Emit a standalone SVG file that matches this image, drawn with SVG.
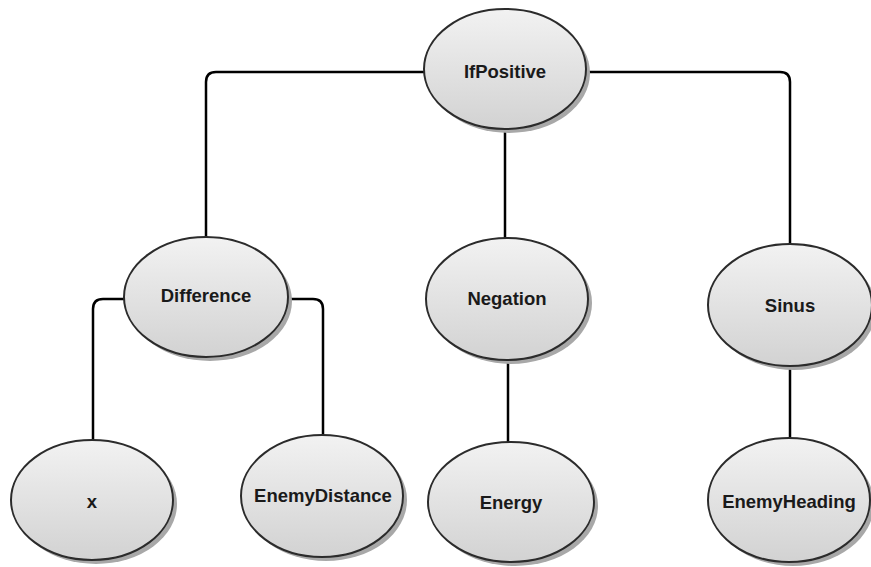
<svg xmlns="http://www.w3.org/2000/svg" width="871" height="567" viewBox="0 0 871 567">
  <defs>
    <linearGradient id="nodeFill" x1="0" y1="0" x2="0" y2="1">
      <stop offset="0" stop-color="#f2f2f2"/>
      <stop offset="1" stop-color="#d2d2d2"/>
    </linearGradient>
  </defs>
  <style>
    .shadow { fill: #a8a8a8; }
    .body { fill: url(#nodeFill); stroke: #2b2b2b; stroke-width: 2; }
    .label { font-family: "Liberation Sans", Arial, sans-serif; font-weight: bold; font-size: 18.5px; fill: #1a1a1a; text-anchor: middle; dominant-baseline: central; }
    .edge { fill: none; stroke: #000; stroke-width: 2.5; }
  </style>
  <rect width="871" height="567" fill="#ffffff"/>

  <!-- tree edges -->
  <g id="connectors">
    <path class="edge" d="M424,72 H216 Q206,72 206,82 V238"/>
    <path class="edge" d="M505,128 V238"/>
    <path class="edge" d="M586,72 H780 Q790,72 790,82 V244"/>
    <path class="edge" d="M124,299 H103 Q93,299 93,309 V440"/>
    <path class="edge" d="M288,299 H313 Q323,299 323,309 V435"/>
    <path class="edge" d="M508,360 V442"/>
    <path class="edge" d="M790,367 V438"/>
  </g>

  <g id="node-ifpositive">
    <ellipse class="shadow" cx="509" cy="73" rx="81" ry="60"/>
    <ellipse class="body" cx="505" cy="69" rx="81" ry="60"/>
    <text class="label" x="505" y="71">IfPositive</text>
  </g>
  <g id="node-difference">
    <ellipse class="shadow" cx="210" cy="301" rx="82" ry="60"/>
    <ellipse class="body" cx="206" cy="297" rx="82" ry="60"/>
    <text class="label" x="206" y="295">Difference</text>
  </g>
  <g id="node-negation">
    <ellipse class="shadow" cx="511" cy="303" rx="81" ry="61"/>
    <ellipse class="body" cx="507" cy="299" rx="81" ry="61"/>
    <text class="label" x="507" y="298">Negation</text>
  </g>
  <g id="node-sinus">
    <ellipse class="shadow" cx="794" cy="309" rx="82" ry="61"/>
    <ellipse class="body" cx="790" cy="305" rx="82" ry="61"/>
    <text class="label" x="790" y="305">Sinus</text>
  </g>
  <g id="node-x">
    <ellipse class="shadow" cx="96" cy="504" rx="81" ry="60"/>
    <ellipse class="body" cx="92" cy="500" rx="81" ry="60"/>
    <text class="label" x="92" y="501">x</text>
  </g>
  <g id="node-enemydistance">
    <ellipse class="shadow" cx="326" cy="500" rx="81" ry="61"/>
    <ellipse class="body" cx="322" cy="496" rx="81" ry="61"/>
    <text class="label" x="323" y="495">EnemyDistance</text>
  </g>
  <g id="node-energy">
    <ellipse class="shadow" cx="515" cy="506" rx="83" ry="60"/>
    <ellipse class="body" cx="511" cy="502" rx="83" ry="60"/>
    <text class="label" x="511" y="502">Energy</text>
  </g>
  <g id="node-enemyheading">
    <ellipse class="shadow" cx="793" cy="504" rx="81" ry="62"/>
    <ellipse class="body" cx="789" cy="500" rx="81" ry="62"/>
    <text class="label" x="789" y="501">EnemyHeading</text>
  </g>
</svg>
